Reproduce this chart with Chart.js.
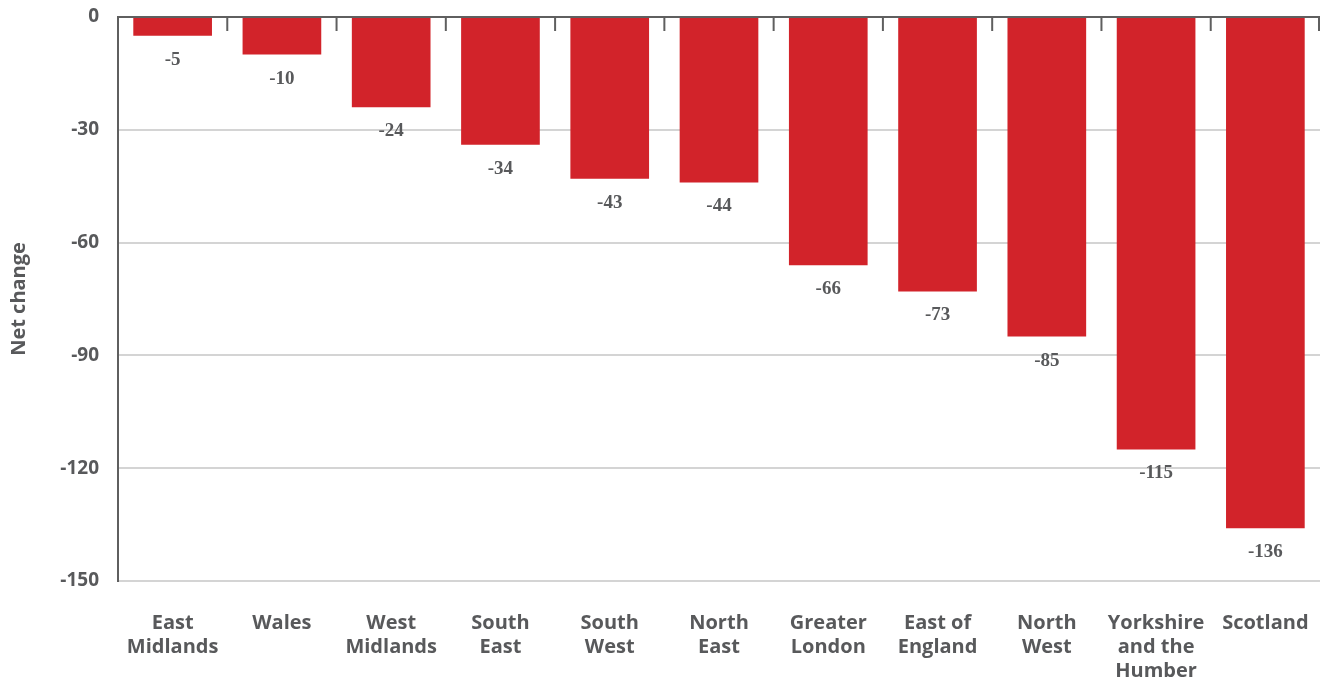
<!DOCTYPE html>
<html>
<head>
<meta charset="utf-8">
<script src="https://cdn.jsdelivr.net/npm/chart.js@4"></script>
<style>
  html, body { margin: 0; padding: 0; background: #fff; }
  #wrap { width: 1326px; height: 679px; position: relative; }
</style>
</head>
<body>
<div id="wrap"><canvas id="chart"></canvas></div>
<script>
// Net change by region
const regions = [
  ["East", "Midlands"], ["Wales"], ["West", "Midlands"], ["South", "East"],
  ["South", "West"], ["North", "East"], ["Greater", "London"], ["East of", "England"],
  ["North", "West"], ["Yorkshire", "and the", "Humber"], ["Scotland"]
];
const netChange = [-5, -10, -24, -34, -43, -44, -66, -73, -85, -115, -136];
const yTicks = [0, -30, -60, -90, -120, -150];

const TEXT = '#58595b';
const BAR = '#d2232a';

// Value labels under each bar
const valueLabels = {
  id: 'valueLabels',
  afterDatasetsDraw(chart) {
    const ctx = chart.ctx;
    const meta = chart.getDatasetMeta(0);
    ctx.save();
    ctx.font = 'bold 19px "Liberation Serif", serif';
    ctx.fillStyle = TEXT;
    ctx.textAlign = 'center';
    ctx.textBaseline = 'middle';
    meta.data.forEach((bar, i) => {
      ctx.fillText(String(netChange[i]), bar.x, bar.y + 24);
    });
    ctx.restore();
  }
};

// Short category separators hanging from the zero line
const zeroTicks = {
  id: 'zeroTicks',
  afterDatasetsDraw(chart) {
    const ctx = chart.ctx;
    const x = chart.scales.x;
    const y0 = chart.scales.y.getPixelForValue(0);
    const n = regions.length;
    ctx.save();
    ctx.strokeStyle = '#5f5f5f';
    ctx.lineWidth = 2;
    for (let i = 1; i <= n; i++) {
      const px = i < n
        ? (x.getPixelForValue(i - 1) + x.getPixelForValue(i)) / 2
        : x.getPixelForValue(n - 1) + (x.getPixelForValue(n - 1) - x.getPixelForValue(n - 2)) / 2 - 1;
      ctx.beginPath();
      ctx.moveTo(px, y0);
      ctx.lineTo(px, y0 + 14);
      ctx.stroke();
    }
    ctx.beginPath();
    ctx.moveTo(chart.chartArea.left, y0);
    ctx.lineTo(chart.chartArea.right, y0);
    ctx.stroke();
    ctx.restore();
  }
};

new Chart(document.getElementById('chart'), {
  type: 'bar',
  data: {
    labels: regions,
    datasets: [{
      data: netChange,
      backgroundColor: BAR,
      borderWidth: 0,
      categoryPercentage: 1,
      barPercentage: 0.72
    }]
  },
  options: {
    responsive: true,
    maintainAspectRatio: false,
    animation: false,
    layout: { padding: { top: 17, right: 6, left: 0, bottom: 0 } },
    plugins: { legend: { display: false }, tooltip: { enabled: false } },
    scales: {
      x: {
        grid: { display: false, drawTicks: false },
        border: { display: false },
        ticks: {
          color: TEXT,
          font: { family: '"Open Sans", sans-serif', size: 20, weight: 'bold', lineHeight: 1.2 },
          padding: 30,
          maxRotation: 0,
          autoSkip: false
        },
        afterFit(scale) {
          scale.height = 98;
          scale.paddingLeft = 0;
          scale.paddingRight = 0;
        }
      },
      y: {
        min: -150,
        max: 0,
        afterBuildTicks(scale) { scale.ticks = yTicks.map(v => ({ value: v })); },
        grid: {
          drawTicks: false,
          color: '#d4d4d4',
          lineWidth: 2
        },
        border: { display: true, color: '#5f5f5f', width: 2 },
        ticks: {
          color: TEXT,
          font: { family: '"Open Sans", sans-serif', size: 19, weight: 'bold' },
          padding: 19
        },
        title: {
          display: true,
          text: 'Net change',
          color: TEXT,
          font: { family: '"Open Sans", sans-serif', size: 20, weight: 'bold', lineHeight: 1.2 },
          padding: { top: 7, bottom: 0 }
        },
        afterFit(scale) {
          scale.width = 118;
          scale.paddingTop = 0;
          scale.paddingBottom = 0;
        }
      }
    }
  },
  plugins: [valueLabels, zeroTicks]
});
</script>
</body>
</html>
